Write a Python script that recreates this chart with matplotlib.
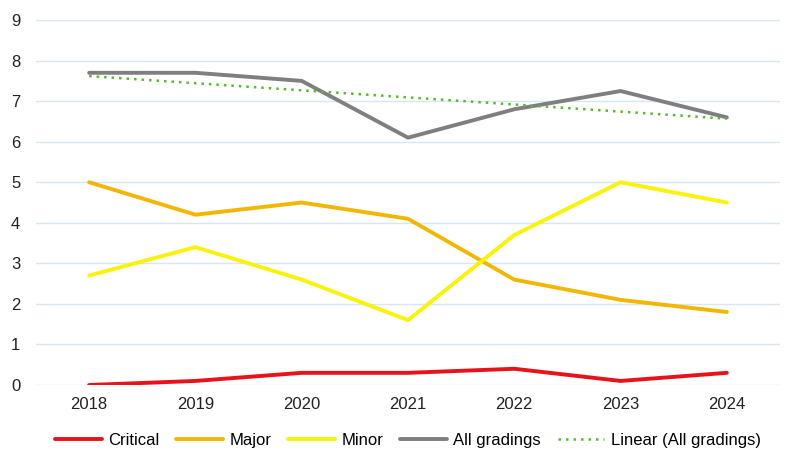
import numpy as np
import matplotlib
matplotlib.use("Agg")
import matplotlib.pyplot as plt

plt.rcParams['font.family'] = ['Liberation Sans', 'DejaVu Sans']

years = ['2018', '2019', '2020', '2021', '2022', '2023', '2024']
critical = [0.0, 0.1, 0.3, 0.3, 0.4, 0.1, 0.3]
major = [5.0, 4.2, 4.5, 4.1, 2.6, 2.1, 1.8]
minor = [2.7, 3.4, 2.6, 1.6, 3.7, 5.0, 4.5]
all_gradings = [7.7, 7.7, 7.5, 6.1, 6.8, 7.25, 6.6]

x = np.arange(len(years))
coef = np.polyfit(x, all_gradings, 1)
trend = np.polyval(coef, x)

fig = plt.figure(figsize=(8, 4.67), dpi=100)
ax = fig.add_axes([0.045, 0.1756, 0.93, 0.7814])

lw = 2.8
ax.plot(x, critical, color='#E8121A', lw=lw, label='Critical', solid_capstyle='round')
ax.plot(x, major, color='#F2B705', lw=lw, label='Major', solid_capstyle='round')
ax.plot(x, minor, color='#F9F20A', lw=lw, label='Minor', solid_capstyle='round')
ax.plot(x, all_gradings, color='#7F7F7F', lw=lw, label='All gradings', solid_capstyle='round')
ax.plot(x, trend, color='#5DB82E', lw=1.8, ls=(0, (1, 2.0)), label='Linear (All gradings)')

ax.set_xlim(-0.5, len(years) - 0.5)
ax.set_ylim(0, 9)
ax.set_yticks(range(0, 10))
ax.set_xticks(x)
ax.set_xticklabels(years)
ax.tick_params(length=0, labelsize=12, colors='#222222')
ax.tick_params(axis='x', pad=9)
ax.tick_params(axis='y', pad=18)
for lab in ax.get_yticklabels():
    lab.set_horizontalalignment('left')
ax.grid(axis='y', color='#D6E6F4', lw=1)
ax.set_axisbelow(True)
for s in ax.spines.values():
    s.set_visible(False)

ax.legend(loc='center', bbox_to_anchor=(0.5, -0.152), ncol=5, frameon=False,
          fontsize=12, handlelength=2.8, columnspacing=1.0, handletextpad=0.4)

fig.savefig('out.png', dpi=100)
